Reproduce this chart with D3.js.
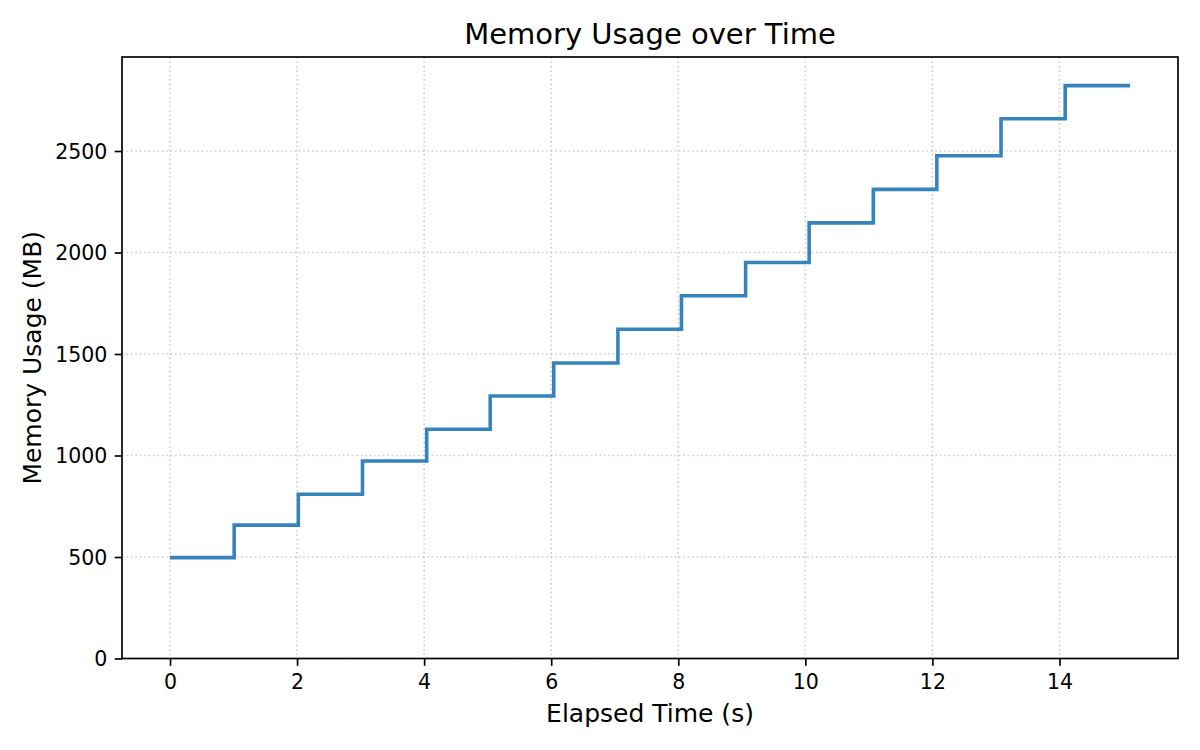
<!DOCTYPE html>
<html>
<head>
<meta charset="utf-8">
<script src="https://cdn.jsdelivr.net/npm/d3@7"></script>
<style>
  html, body { margin: 0; padding: 0; background: #ffffff; }
  svg { display: block; font-family: "DejaVu Sans", sans-serif; }
</style>
</head>
<body>
<svg id="chart" width="1200" height="750"></svg>
<script>
// ---- data ----
const chartTitle = "Memory Usage over Time";
const xLabel = "Elapsed Time (s)";
const yLabel = "Memory Usage (MB)";
const elapsedTimes = [0, 1.01, 2.02, 3.03, 4.04, 5.04, 6.04, 7.05, 8.05, 9.06, 10.06, 11.07, 12.07, 13.08, 14.09, 15.11];
const memoryMB =     [497, 657, 809, 973, 1129, 1293, 1456, 1622, 1787, 1951, 2146, 2311, 2477, 2659, 2822, 2822];
const xTicks = [0, 2, 4, 6, 8, 10, 12, 14];
const yTicks = [0, 500, 1000, 1500, 2000, 2500];

(function () {
// ---- layout ----
const pLeft = 122, pRight = 1178, pTop = 57, pBottom = 658.5;
const svg = d3.select("#chart");

const xMin = d3.min(elapsedTimes), xMax = d3.max(elapsedTimes);
const xPad = (xMax - xMin) * 0.05;
const x = d3.scaleLinear().domain([xMin - xPad, xMax + xPad]).range([pLeft, pRight]);
const yMax = d3.max(memoryMB) * 1.05;
const y = d3.scaleLinear().domain([0, yMax]).range([pBottom, pTop]);

// grid
const grid = svg.append("g").attr("stroke", "#b0b0b0").attr("stroke-opacity", 0.6)
  .attr("stroke-width", 1.67).attr("stroke-dasharray", "1.67,2.75");
grid.selectAll("line.gx").data(xTicks).join("line").attr("class", "gx")
  .attr("x1", d => x(d)).attr("x2", d => x(d)).attr("y1", pTop).attr("y2", pBottom);
grid.selectAll("line.gy").data(yTicks).join("line").attr("class", "gy")
  .attr("x1", pLeft).attr("x2", pRight).attr("y1", d => y(d)).attr("y2", d => y(d));

// step line
const line = d3.line().x((d, i) => x(elapsedTimes[i])).y(d => y(d)).curve(d3.curveStepAfter);
svg.append("path").datum(memoryMB)
  .attr("d", line).attr("fill", "none").attr("stroke", "#3585bc")
  .attr("stroke-width", 3.6).attr("stroke-linejoin", "miter").attr("stroke-linecap", "butt");

// axes
const xAxis = d3.axisBottom(x).tickValues(xTicks).tickSize(7.3).tickPadding(7).tickFormat(d3.format("d"));
const yAxis = d3.axisLeft(y).tickValues(yTicks).tickSize(7.3).tickPadding(7).tickFormat(d3.format("d"));

const gx = svg.append("g").attr("transform", `translate(0,${pBottom})`).call(xAxis);
const gy = svg.append("g").attr("transform", `translate(${pLeft},0)`).call(yAxis);
[gx, gy].forEach(g => {
  g.select(".domain").remove();
  g.selectAll(".tick line").attr("stroke", "#000").attr("stroke-width", 1.67);
  g.selectAll(".tick text").attr("fill", "#000").attr("font-size", "20.5px")
    .attr("font-family", "DejaVu Sans, sans-serif");
});
gx.selectAll(".tick text").attr("dy", null).attr("y", 30.5);
gy.selectAll(".tick text").attr("dy", "0.36em").attr("x", -14.6);

// spines
svg.append("rect").attr("x", pLeft).attr("y", pTop).attr("width", pRight - pLeft).attr("height", pBottom - pTop)
  .attr("fill", "none").attr("stroke", "#000").attr("stroke-width", 1.67);

// labels
svg.append("text").attr("x", (pLeft + pRight) / 2).attr("y", 44).attr("text-anchor", "middle")
  .attr("font-size", "29px").attr("fill", "#000").text(chartTitle);
svg.append("text").attr("x", (pLeft + pRight) / 2).attr("y", 722).attr("text-anchor", "middle")
  .attr("font-size", "25px").attr("fill", "#000").text(xLabel);
svg.append("text").attr("transform", `translate(41,${(pTop + pBottom) / 2}) rotate(-90)`)
  .attr("text-anchor", "middle").attr("font-size", "25px").attr("fill", "#000").text(yLabel);
})();
</script>
</body>
</html>
